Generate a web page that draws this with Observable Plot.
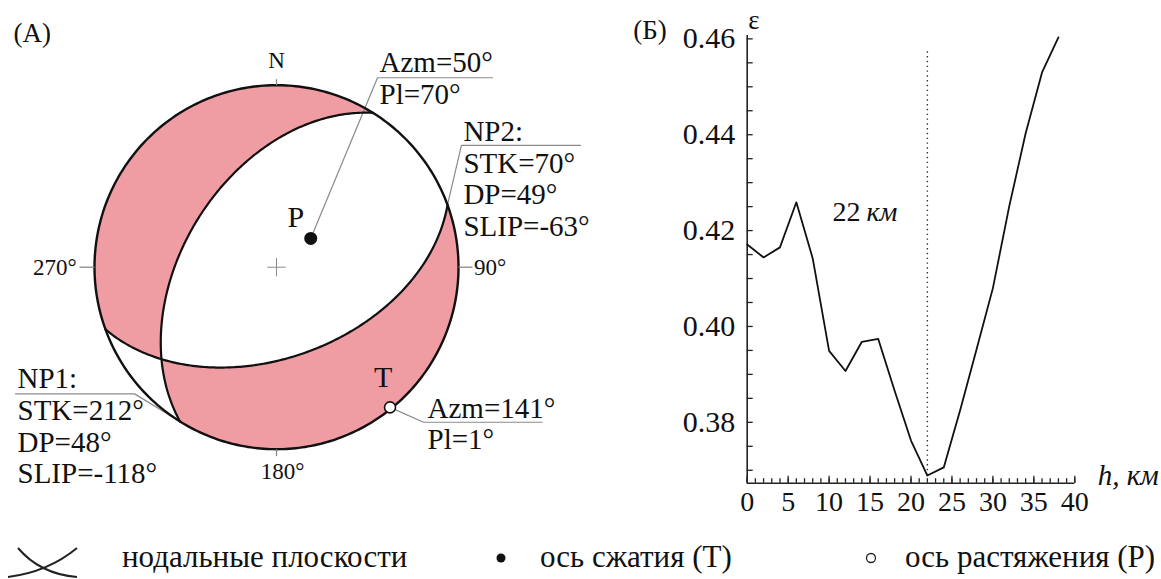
<!DOCTYPE html>
<html><head><meta charset="utf-8">
<script src="https://cdn.jsdelivr.net/npm/d3@7"></script>
<script src="https://cdn.jsdelivr.net/npm/@observablehq/plot@0.6"></script>
<style>
html,body{margin:0;padding:0;background:#fff;}
#wrap{position:relative;width:1161px;height:579px;overflow:hidden;font-family:"Liberation Serif","Times New Roman",serif;color:#111;}
#left{position:absolute;left:0;top:0;}
#right{position:absolute;left:600px;top:0;}
#legend{position:absolute;left:0;top:530px;width:1161px;height:49px;font-size:31px;line-height:1;}
#legend .t{position:absolute;top:10.5px;white-space:nowrap;}
#legend svg{position:absolute;left:0;top:0;}
</style></head><body>
<div id="wrap">
  <div id="left"></div>
  <div id="right"></div>
  <div id="legend">
    <svg width="1161" height="49">
      <path d="M18,18 Q40,44 77,47" fill="none" stroke="#222" stroke-width="2"/>
      <path d="M8,47 Q48,42 77,18" fill="none" stroke="#222" stroke-width="2"/>
      <circle cx="501" cy="28" r="4.5" fill="#111"/>
      <circle cx="871" cy="28" r="4.5" fill="#fff" stroke="#222" stroke-width="1.3"/>
    </svg>
    <span class="t" style="left:122px">нодальные плоскости</span>
    <span class="t" style="left:540px">ось сжатия (T)</span>
    <span class="t" style="left:905px">ось растяжения (P)</span>
  </div>
</div>
<script>
// ---------------- data: depth curve (panel Б) ----------------
const depthKm = [0, 2, 4, 6, 8, 10, 12, 14, 16, 18, 20, 22, 24, 26, 28, 30, 32, 34, 36, 38];
const epsilon = [0.4171, 0.4144, 0.4165, 0.4259, 0.4142, 0.3949, 0.3907, 0.3968, 0.3974, 0.3866,
                 0.3762, 0.3689, 0.3706, 0.3825, 0.3952, 0.4080, 0.4251, 0.4403, 0.4530, 0.4603];
const bestDepthKm = 22;
const bestDepthTop = 0.4579;
const yMajorTicks = [0.38, 0.40, 0.42, 0.44, 0.46];
const yMinorTicks = [0.37, 0.375, 0.38, 0.385, 0.39, 0.395, 0.40, 0.405, 0.41, 0.415, 0.42, 0.425, 0.43, 0.435, 0.44, 0.445, 0.45, 0.455, 0.46];
const xMajorTicks = [0, 5, 10, 15, 20, 25, 30, 35, 40];
const xMinorTicks = d3.range(0, 41, 1);

// ---------------- data: focal mechanism (panel A) ----------------
const planeNames = ["NP1", "NP2"];
const planeStrike = [212, 70];
const planeDip = [48, 49];
const planeSlip = [-118, -63];
const axisNames = ["P", "T"];
const axisAzimuth = [50, 141];
const axisPlunge = [70, 1];
const compassLabels = ["N", "90°", "180°", "270°"];
const compassAzimuth = [0, 90, 180, 270];

// ---------------- style ----------------
const PINK = "#ef9ca2";
const INK = "#111";
const GREY = "#8a8a8a";
const FONT = "Liberation Serif, Times New Roman, serif";

// ---------------- geometry helpers ----------------
const rad = Math.PI / 180;
const dot = (a, b) => a[0]*b[0] + a[1]*b[1] + a[2]*b[2];
const cross = (a, b) => [a[1]*b[2]-a[2]*b[1], a[2]*b[0]-a[0]*b[2], a[0]*b[1]-a[1]*b[0]];
const scl = (a, k) => [a[0]*k, a[1]*k, a[2]*k];
const unit = a => scl(a, 1 / Math.hypot(...a));
// lower-hemisphere equal-area (Schmidt) projection, NED coordinates
function proj(v) {
  const d = Math.max(0, Math.min(1, v[2]));
  const h = Math.hypot(v[0], v[1]);
  const r = Math.sqrt(1 - d);
  return h < 1e-12 ? {x: 0, y: 0} : {x: r * v[1] / h, y: r * v[0] / h};
}
function axisVec(az, pl) {
  return [Math.cos(pl*rad)*Math.cos(az*rad), Math.cos(pl*rad)*Math.sin(az*rad), Math.sin(pl*rad)];
}
function planeBasis(strike, dip) {
  const f = strike * rad, d = dip * rad;
  return {
    s: [Math.cos(f), Math.sin(f), 0],
    w: [-Math.sin(f)*Math.cos(d), Math.cos(f)*Math.cos(d), Math.sin(d)],
    n: [Math.sin(f)*Math.sin(d), -Math.cos(f)*Math.sin(d), Math.cos(d)]
  };
}
function arc(u, v, k = 120) {
  const om = Math.acos(Math.max(-1, Math.min(1, dot(u, v))));
  const out = [];
  for (let i = 0; i <= k; i++) {
    const t = i / k;
    if (om < 1e-9) { out.push(u); continue; }
    const a = Math.sin((1 - t) * om) / Math.sin(om), b = Math.sin(t * om) / Math.sin(om);
    out.push([u[0]*a + v[0]*b, u[1]*a + v[1]*b, u[2]*a + v[2]*b]);
  }
  return out;
}
function triangle(a, b, c) {
  const orient = (v, ref) => dot(v, ref) < 0 ? scl(v, -1) : v;
  const Vab = orient(unit(cross(a, b)), c);
  const Vbc = orient(unit(cross(b, c)), a);
  const Vca = orient(unit(cross(c, a)), b);
  return [...arc(Vca, Vab), ...arc(Vab, Vbc), ...arc(Vbc, Vca)].map(proj);
}

const planes = planeNames.map((name, i) => ({name, ...planeBasis(planeStrike[i], planeDip[i])}));
const axes = axisNames.map((name, i) => ({name, v: axisVec(axisAzimuth[i], axisPlunge[i]), ...proj(axisVec(axisAzimuth[i], axisPlunge[i]))}));
const tAxis = axes.find(d => d.name === "T").v;
const down = [0, 0, 1];
const nA = scl(planes[0].n, Math.sign(dot(planes[0].n, tAxis)) || 1);
const nB = scl(planes[1].n, Math.sign(dot(planes[1].n, tAxis)) || 1);
const tension1 = triangle(nA, nB, down);
const tension2 = triangle(scl(nA, -1), scl(nB, -1), down);

const nodalCurves = planes.flatMap(p => d3.range(0, 181, 1).map(t => {
  const c = Math.cos(t*rad), s = Math.sin(t*rad);
  return {plane: p.name, ...proj([p.s[0]*c + p.w[0]*s, p.s[1]*c + p.w[1]*s, p.s[2]*c + p.w[2]*s])};
}));
const rim = d3.range(0, 361, 1).map(a => ({x: Math.sin(a*rad), y: Math.cos(a*rad)}));

// ---------------- layout (normalised stereonet units, radius = 1) ----------------
const R = 182; // pixels per unit
const rimPoint = az => ({x: Math.sin(az*rad), y: Math.cos(az*rad)});
const tickLen = [6, 14, 7, 15];
const compassTicks = compassAzimuth.map((az, i) => {
  const p = rimPoint(az);
  return {x1: p.x, y1: p.y, x2: p.x * (1 + tickLen[i]/R), y2: p.y * (1 + tickLen[i]/R)};
});
const P = axes.find(d => d.name === "P"), T = axes.find(d => d.name === "T");
const np1Rim = rimPoint(planeStrike[0]), np2Rim = rimPoint(planeStrike[1]);
const leaders = [
  {id: "P", pts: [[P.x, P.y], [0.555, 1.041], [1.187, 1.041]]},
  {id: "NP2", pts: [[np2Rim.x, np2Rim.y], [1.016, 0.669], [1.670, 0.669]]},
  {id: "NP1", pts: [[np1Rim.x, np1Rim.y], [-0.780, -0.696], [-1.434, -0.696]]},
  {id: "T", pts: [[T.x, T.y], [0.808, -0.852], [1.459, -0.852]]}
].flatMap(l => l.pts.map(([x, y]) => ({id: l.id, x, y})));

const fmt = v => `${v}°`;
const blockText = [
  {t: `Azm=${fmt(axisAzimuth[0])}`, x: 0.566, y: 1.075},
  {t: `Pl=${fmt(axisPlunge[0])}`, x: 0.566, y: 0.899},
  {t: `${planeNames[1]}:`, x: 1.027, y: 0.696},
  {t: `STK=${fmt(planeStrike[1])}`, x: 1.027, y: 0.520},
  {t: `DP=${fmt(planeDip[1])}`, x: 1.027, y: 0.350},
  {t: `SLIP=${fmt(planeSlip[1])}`, x: 1.027, y: 0.169},
  {t: `${planeNames[0]}:`, x: -1.423, y: -0.666},
  {t: `STK=${fmt(planeStrike[0])}`, x: -1.423, y: -0.842},
  {t: `DP=${fmt(planeDip[0])}`, x: -1.423, y: -1.018},
  {t: `SLIP=${fmt(planeSlip[0])}`, x: -1.423, y: -1.188},
  {t: `Azm=${fmt(axisAzimuth[1])}`, x: 0.830, y: -0.826},
  {t: `Pl=${fmt(axisPlunge[1])}`, x: 0.830, y: -1.001}
];
const cText = (i, x, y, textAnchor, lineAnchor) =>
  Plot.text([compassLabels[i]], {x, y, text: d => d, textAnchor, lineAnchor, fontSize: 23, fill: INK});

const left = Plot.plot({
  width: 600, height: 500,
  marginLeft: 94, marginRight: 142, marginTop: 84.7, marginBottom: 51.3,
  x: {domain: [-1, 1], axis: null},
  y: {domain: [-1, 1], axis: null},
  style: {fontFamily: FONT, color: INK, background: "#fff"},
  marks: [
    Plot.line(tension1, {x: "x", y: "y", fill: PINK, stroke: PINK, strokeWidth: 0.5}),
    Plot.line(tension2, {x: "x", y: "y", fill: PINK, stroke: PINK, strokeWidth: 0.5}),
    Plot.line(leaders, {x: "x", y: "y", z: "id", stroke: GREY, strokeWidth: 1.2}),
    Plot.line(nodalCurves, {x: "x", y: "y", z: "plane", stroke: "#111", strokeWidth: 2.2}),
    Plot.line(rim, {x: "x", y: "y", stroke: "#111", strokeWidth: 2.4}),
    Plot.link(compassTicks, {x1: "x1", y1: "y1", x2: "x2", y2: "y2", stroke: GREY, strokeWidth: 1.3}),
    Plot.dot([{x: 0, y: 0}], {x: "x", y: "y", symbol: "plus", r: 6, stroke: GREY, strokeWidth: 1}),
    Plot.dot([P], {x: "x", y: "y", r: 6.5, fill: "#111", stroke: "none"}),
    Plot.dot([T], {x: "x", y: "y", r: 5.5, fill: "#fff", stroke: "#111", strokeWidth: 1.6}),
    Plot.text([P], {x: "x", y: "y", text: "name", dx: -15, dy: -11, lineAnchor: "bottom", fontSize: 30, fill: INK}),
    Plot.text([T], {x: "x", y: "y", text: "name", dx: -7, dy: -20, lineAnchor: "bottom", fontSize: 30, fill: INK}),
    Plot.text(blockText, {x: "x", y: "y", text: "t", textAnchor: "start", lineAnchor: "bottom", fontSize: 29, fill: INK}),
    cText(0, 0, 1.097, "middle", "bottom"),
    cText(1, 1.085, 0, "start", "middle"),
    cText(2, 0.033, -1.075, "middle", "top"),
    cText(3, -1.098, 0, "end", "middle"),
    Plot.text(["(A)"], {x: -1.445, y: 1.235, text: d => d, textAnchor: "start", lineAnchor: "bottom", fontSize: 27, fill: INK})
  ]
});
document.getElementById("left").appendChild(left);

// ---------------- panel Б ----------------
const yDomain = [0.3673, 0.4607];
const W = 561, H = 525, mL = 146.7, mR = 86.7, mT = 35, mB = 42.3;
const frameW = W - mL - mR, frameH = H - mT - mB;
const curve = depthKm.map((h, i) => ({h, e: epsilon[i]}));
const minE = epsilon[depthKm.indexOf(bestDepthKm)];

const right = Plot.plot({
  width: W, height: H,
  marginLeft: mL, marginRight: mR, marginTop: mT, marginBottom: mB,
  x: {domain: [0, 40], axis: null},
  y: {domain: yDomain, axis: null},
  style: {fontFamily: FONT, color: INK, background: "#fff"},
  marks: [
    Plot.ruleX([0], {stroke: "#222", strokeWidth: 1.6}),
    Plot.ruleY([yDomain[0]], {stroke: "#222", strokeWidth: 1.6}),
    Plot.tickY(yMinorTicks, {y: d => d, insetRight: frameW - 6, stroke: "#222", strokeWidth: 1.3}),
    Plot.tickX(xMinorTicks, {x: d => d, insetTop: frameH - 4.5, stroke: "#222", strokeWidth: 1.3}),
    Plot.tickX(xMajorTicks, {x: d => d, insetTop: frameH - 7, stroke: "#222", strokeWidth: 1.3}),
    Plot.text(yMajorTicks, {x: 0, y: d => d, text: d => d.toFixed(2), textAnchor: "end", dx: -12, fontSize: 30, fill: INK}),
    Plot.text(xMajorTicks, {x: d => d, y: yDomain[0], text: d => String(d), lineAnchor: "top", dy: 8, fontSize: 28, fill: INK}),
    Plot.ruleX([bestDepthKm], {y1: minE, y2: bestDepthTop, stroke: "#333", strokeWidth: 1.4, strokeDasharray: "1.4,3.4"}),
    Plot.line(curve, {x: "h", y: "e", stroke: "#111", strokeWidth: 1.8}),
    Plot.text([`${bestDepthKm}`], {x: 10.4, y: 0.4221, text: d => d, textAnchor: "start", lineAnchor: "bottom", fontSize: 28, fill: INK}),
    Plot.text(["км"], {x: 10.4, y: 0.4221, dx: 34, text: d => d, textAnchor: "start", lineAnchor: "bottom", fontSize: 28, fontStyle: "italic", fill: INK}),
    Plot.text(["ε"], {x: 0, y: yDomain[1], dx: 1, dy: -7, text: d => d, textAnchor: "start", lineAnchor: "bottom", fontSize: 27, fill: INK}),
    Plot.text(["(Б)"], {x: 0, y: yDomain[1], dx: -114, dy: 3, text: d => d, textAnchor: "start", lineAnchor: "bottom", fontSize: 27, fill: INK}),
    Plot.text(["h, км"], {x: 40, y: yDomain[0], dx: 23, dy: 2, text: d => d, textAnchor: "start", lineAnchor: "bottom", fontSize: 29, fontStyle: "italic", fill: INK})
  ]
});
document.getElementById("right").appendChild(right);
</script>
</body></html>
